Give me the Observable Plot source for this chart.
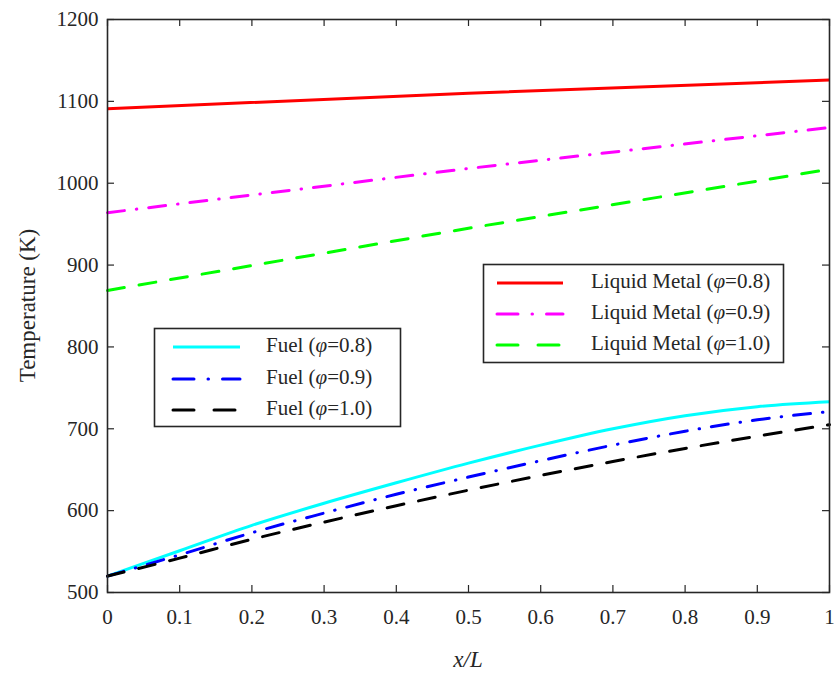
<!DOCTYPE html>
<html><head><meta charset="utf-8">
<script src="https://cdn.jsdelivr.net/npm/d3@7"></script>
<script src="https://cdn.jsdelivr.net/npm/@observablehq/plot@0.6"></script>
<style>
body{margin:0;background:#fff}
#chart{position:relative;width:834px;height:673px}
</style>
</head><body><div id="chart"></div>
<script>
// ---- data ----
const xFuel = [0, 0.1, 0.2, 0.3, 0.4, 0.5, 0.6, 0.7, 0.8, 0.9, 1.0];
const fuel08 = [520, 551, 582, 609, 634, 658, 680, 700, 716, 727, 733];
const fuel09 = [520, 546, 573, 597, 620, 641, 661, 680, 697, 711, 721];
const fuel10 = [520, 542, 565, 586, 606, 625, 643, 660, 676, 691, 705];
const xLM = [0, 0.5, 1.0];
const lm08 = [1091, 1110, 1126];
const lm09 = [964, 1018, 1068];
const lm10 = [869, 945, 1017];
const xTicks = [0, 0.1, 0.2, 0.3, 0.4, 0.5, 0.6, 0.7, 0.8, 0.9, 1];
const yTicks = [500, 600, 700, 800, 900, 1000, 1100, 1200];
const seriesNames = ["Fuel (φ=0.8)", "Fuel (φ=0.9)", "Fuel (φ=1.0)",
  "Liquid Metal (φ=0.8)", "Liquid Metal (φ=0.9)", "Liquid Metal (φ=1.0)"];
const colors = ["#00ffff", "#0000ff", "#000000", "#ff0000", "#ff00ff", "#00ff00"];
const dashSolid = null, dashDot = "17,12,0.5,12", dashDash = "17,15";
const dashes = [dashSolid, dashDot, dashDash, dashSolid, dashDot, dashDash];
const legendDashes = [null, "21,14,0.5,14", "21,20", null, "21,14,0.5,14", "21,20"];

const rows = [];
[fuel08, fuel09, fuel10].forEach((arr, i) => arr.forEach((v, j) => rows.push({s: i, x: xFuel[j], y: v})));
[lm08, lm09, lm10].forEach((arr, i) => arr.forEach((v, j) => rows.push({s: i + 3, x: xLM[j], y: v})));

const W = 834, H = 673;
const mL = 107, mR = 5, mT = 19, mB = 81;
const tickPx = 7;
const yLen = tickPx * (1200 - 500) / (H - mT - mB);
const xLen = tickPx * 1 / (W - mL - mR);
const axisColor = "#262626";
const font = "'Liberation Serif', 'Times New Roman', serif";

const lineMarks = d3.range(6).map(i => Plot.line(rows.filter(r => r.s === i), {
  x: "x", y: "y", stroke: colors[i], strokeWidth: 3,
  strokeDasharray: dashes[i], strokeLinecap: dashes[i] ? "round" : "butt",
  curve: i < 3 ? "monotone-x" : "linear"
}));

const plot = Plot.plot({
  width: W, height: H,
  marginLeft: mL, marginRight: mR, marginTop: mT, marginBottom: mB,
  style: {fontFamily: font, fontSize: "21px", color: axisColor, background: "#fff"},
  x: {domain: [0, 1]},
  y: {domain: [500, 1200]},
  marks: [
    Plot.axisX({ticks: xTicks, tickSize: 0, tickPadding: 17, label: null, tickFormat: d3.format("~g"), fill: axisColor}),
    Plot.axisY({ticks: yTicks, tickSize: 0, tickPadding: 9, label: null, tickFormat: d => String(d), fill: axisColor}),
    Plot.ruleX(xTicks, {x: d => d, y1: 500, y2: 500 + yLen, stroke: axisColor, strokeWidth: 1.2}),
    Plot.ruleX(xTicks, {x: d => d, y1: 1200, y2: 1200 - yLen, stroke: axisColor, strokeWidth: 1.2}),
    Plot.ruleY(yTicks, {y: d => d, x1: 0, x2: xLen, stroke: axisColor, strokeWidth: 1.2}),
    Plot.ruleY(yTicks, {y: d => d, x1: 1, x2: 1 - xLen, stroke: axisColor, strokeWidth: 1.2}),
    ...lineMarks,
    Plot.frame({stroke: axisColor, strokeWidth: 1.6})
  ]
});
document.getElementById("chart").appendChild(plot);

const svg = d3.select(plot);
// axis titles
svg.append("text")
  .attr("transform", `translate(30,${(mT + H - mB) / 2}) rotate(-90)`)
  .attr("text-anchor", "middle").attr("dominant-baseline", "middle")
  .attr("font-family", font).attr("font-size", 23).attr("fill", axisColor)
  .text("Temperature (K)");
svg.append("text")
  .attr("x", (mL + W - mR) / 2).attr("y", 667)
  .attr("text-anchor", "middle")
  .attr("font-family", font).attr("font-size", 23).attr("fill", axisColor)
  .attr("font-style", "italic")
  .text("x/L");

// legends
function legend(x, y, w, h, lineX1, lineX2, textX, rowYs, idx) {
  const g = svg.append("g");
  g.append("rect").attr("x", x).attr("y", y).attr("width", w).attr("height", h)
    .attr("fill", "#fff").attr("stroke", axisColor).attr("stroke-width", 1.6);
  idx.forEach((si, k) => {
    g.append("line").attr("x1", lineX1).attr("x2", lineX2).attr("y1", rowYs[k]).attr("y2", rowYs[k])
      .attr("stroke", colors[si]).attr("stroke-width", 3)
      .attr("stroke-dasharray", legendDashes[si]).attr("stroke-linecap", legendDashes[si] ? "round" : "butt");
    const name = seriesNames[si];
    const p = name.indexOf("φ");
    const t = g.append("text").attr("x", textX).attr("y", rowYs[k])
      .attr("text-anchor", "start")
      .attr("dominant-baseline", "middle")
      .attr("font-family", font).attr("font-size", 21).attr("fill", axisColor);
    t.append("tspan").text(name.slice(0, p));
    t.append("tspan").attr("font-style", "italic").text("φ");
    t.append("tspan").text(name.slice(p + 1));
  });
}
legend(154.5, 328.5, 246, 98, 173, 240, 266, [347, 379, 410], [0, 1, 2]);
legend(483.5, 264.5, 300, 98, 497, 563, 591, [283, 314, 345], [3, 4, 5]);
</script>
</body></html>
